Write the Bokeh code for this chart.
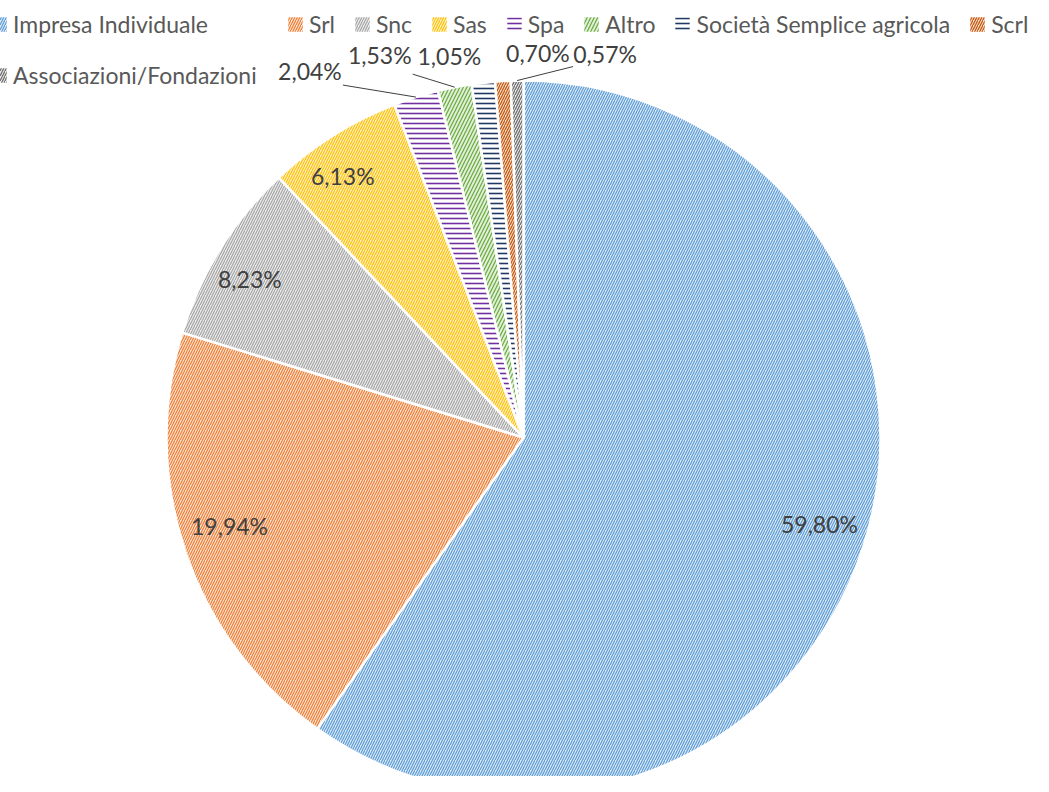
import math
from bokeh.plotting import figure
from bokeh.models import Range1d, ColumnDataSource, Legend, LegendItem
from bokeh.embed import file_html
from bokeh.resources import INLINE

# ---- data ----
categories = ["Impresa Individuale", "Srl", "Snc", "Sas", "Spa", "Altro",
              "Società Semplice agricola", "Scrl", "Associazioni/Fondazioni"]
values = [59.80, 19.94, 8.23, 6.13, 2.04, 1.53, 1.05, 0.70, 0.57]
labels = ["59,80%", "19,94%", "8,23%", "6,13%", "2,04%", "1,53%", "1,05%", "0,70%", "0,57%"]

# ---- styles ----
hatch_colors = ["#5B9BD5", "#ED7D31", "#A5A5A5", "#FFC000", "#7030A0",
                "#70AD47", "#203864", "#C55A11", "#6F6F6F"]
fill_colors = ["#DDEAF7", "#FCE4D5", "#EDEDED", "#FFF2CC", "#FFFFFF",
               "#E3F0DA", "#FFFFFF", "#F8E0D0", "#EDEDED"]
patterns = ["/", "/", "/", "/", "-", "/", "-", "/", "/"]
scales = [5, 5, 5, 5, 5, 7, 5, 5, 5]
weights = [1.2, 1.2, 1.2, 1.2, 1.6, 1.3, 1.6, 1.3, 1.3]

W, H = 1033, 776
PAGE_H = 792
CX, CY = 523, PAGE_H - 437     # data coords (y up), plot px == reference px
R = 357

total = sum(values)
starts, ends, mids = [], [], []
acc = 0.0
for v in values:
    a0 = acc / total * 2 * math.pi
    acc += v
    a1 = acc / total * 2 * math.pi
    starts.append(math.pi / 2 - a0)
    ends.append(math.pi / 2 - a1)
    mids.append(math.pi / 2 - (a0 + a1) / 2)

p = figure(width=W, height=H, x_range=Range1d(0, W), y_range=Range1d(PAGE_H - H, PAGE_H),
           output_backend="svg", toolbar_location=None, x_axis_type=None, y_axis_type=None,
           min_border=0, outline_line_color=None, background_fill_color="white")
p.grid.visible = False

legend_renderers = []
for i in range(len(values)):
    style = dict(fill_color=fill_colors[i], hatch_pattern=patterns[i], hatch_color=hatch_colors[i],
                 hatch_scale=scales[i], hatch_weight=weights[i])
    p.wedge(x=CX, y=CY, radius=R, start_angle=starts[i], end_angle=ends[i], direction="clock",
            line_color="white", line_width=2.5, **style)
    # borderless swatch used only for the legend (zero radius: draws nothing on the pie)
    lr = p.wedge(x=CX, y=CY, radius=0, start_angle=starts[i], end_angle=ends[i], direction="clock",
                 line_color=None, **style)
    legend_renderers.append(lr)

# labels
inner_nudge = {0: (0, 8), 1: (0, 12), 2: (-10, -6), 3: (-15, -1)}
outer_offsets = {4: (-106, 26), 5: (-75, 32), 6: (-34, 27), 7: (35, 28), 8: (88, 27)}
leader = {4: (33, -14), 5: (33, -19), 8: (-32, -13)}
lx, ly = [], []
seg = dict(x0=[], y0=[], x1=[], y1=[])
for i, m in enumerate(mids):
    if i in outer_offsets:
        ex, ey = CX + R * math.cos(m), CY + R * math.sin(m)
        dx, dy = outer_offsets[i]
        lx.append(ex + dx)
        ly.append(ey + dy)
        if i in leader:
            sx, sy = leader[i]
            seg["x0"].append(ex + dx + sx)
            seg["y0"].append(ey + dy + sy)
            seg["x1"].append(ex)
            seg["y1"].append(ey)
    else:
        nx, ny = inner_nudge.get(i, (0, 0))
        lx.append(CX + 0.87 * R * math.cos(m) + nx)
        ly.append(CY + 0.87 * R * math.sin(m) + ny)

p.segment(x0="x0", y0="y0", x1="x1", y1="y1", source=ColumnDataSource(seg),
          line_color="#404040", line_width=1)
p.text(x=lx, y=ly, text=labels, text_align="center", text_baseline="middle",
       text_font={"value": "Lato"}, text_font_size="23px", text_color="#404040")

common = dict(label_text_font="Lato", label_text_font_size="23px", label_text_color="#595959",
              glyph_width=18, glyph_height=18, label_standoff=5, spacing=18, label_height=33,
              padding=0, margin=0, border_line_alpha=0, background_fill_alpha=0)

# first legend column: Impresa Individuale / Associazioni/Fondazioni
col_idx = [0, 8]
legend_a = Legend(items=[LegendItem(label=categories[i], renderers=[legend_renderers[i]]) for i in col_idx],
                  orientation="vertical", location=(-10, H - 7 - 84), **common)
# remaining entries in one row
row_idx = [1, 2, 3, 4, 5, 6, 7]
legend_b = Legend(items=[LegendItem(label=categories[i], renderers=[legend_renderers[i]]) for i in row_idx],
                  orientation="horizontal", location=(286, H - 7 - 33), **common)
p.add_layout(legend_a)
p.add_layout(legend_b)

open("out.html", "w").write(file_html(p, INLINE))
